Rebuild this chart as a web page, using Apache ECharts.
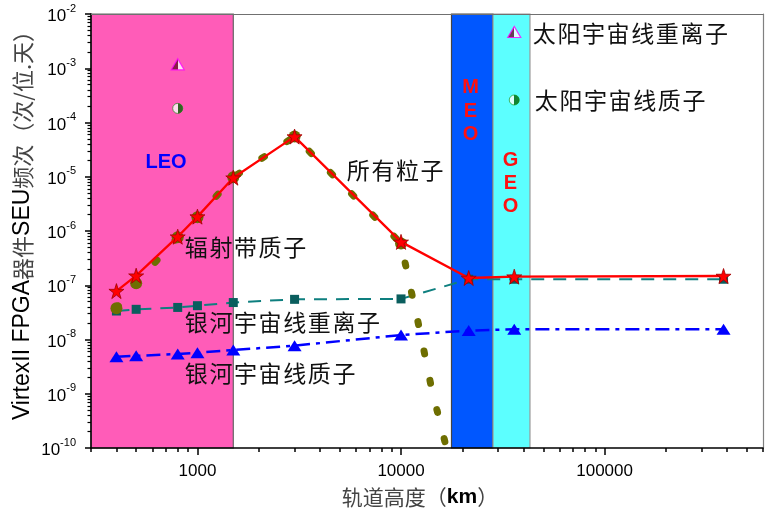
<!DOCTYPE html>
<html>
<head>
<meta charset="utf-8">
<script src="https://cdn.jsdelivr.net/npm/echarts@6/dist/echarts.min.js"></script>
<style>html,body{margin:0;padding:0;background:#fff;}#c{width:776px;height:512px;}</style>
</head>
<body>
<div id="c"></div>
<script>
// ---- data (raw values, km and upsets/bit/day) ----
const altitude      = [400, 500, 800, 1000, 1500, 3000, 10000, 21500, 36000, 384000];
const allParticles  = [7.8e-8, 1.5e-7, 7.85e-7, 1.84e-6, 9.6e-6, 5.5e-5, 6.3e-7, 1.36e-7, 1.44e-7, 1.48e-7];
const gcrHeavyIon   = [3.35e-8, 3.6e-8, 3.9e-8, 4.2e-8, 4.8e-8, 5.5e-8, 5.6e-8, 1.29e-7, 1.29e-7, 1.29e-7];
const gcrProton     = [4.8e-9, 5.0e-9, 5.4e-9, 5.7e-9, 6.4e-9, 7.7e-9, 1.21e-8, 1.46e-8, 1.55e-8, 1.55e-8];
const beltAltitude  = [400, 500, 800, 1000, 1500, 3000, 10000, 11000, 12000, 13000, 14000, 15000, 16000, 17000];
const beltProton    = [3.76e-8, 1.09e-7, 7.65e-7, 1.8e-6, 9.8e-6, 5.5e-5, 5.9e-7, 1.09e-7, 2.5e-8, 5.9e-9, 1.48e-9, 5.1e-10, 1.95e-10, 7.8e-11];
const beltMarked    = [true, true, true, true, true, true, true, false, false, false, false, false, false, false];
const solarAltitude = [800, 36000];
const solarHeavyIon = [1.18e-3, 4.66e-3];
const solarProton   = [1.82e-4, 2.6e-4];
const bandNames     = ['LEO', 'MEO', 'GEO'];
const bandStart     = [300, 17700, 28300];
const bandEnd       = [1500, 28300, 43000];
const xRange        = [300, 600000];
const yRange        = [1e-10, 1e-2];
const xMajorTicks   = [1000, 10000, 100000];
const yMajorTicks   = [1e-10, 1e-9, 1e-8, 1e-7, 1e-6, 1e-5, 1e-4, 1e-3, 1e-2];

// ---- helpers ----
const lg = v => Math.log10(v);
const pts = (xs, ys) => xs.map((x, i) => [lg(x), lg(ys[i])]);
function minorTicks(lo, hi) {
  const out = [];
  for (let e = Math.floor(lg(lo)); e <= Math.ceil(lg(hi)); e++) {
    for (let k = 2; k <= 9; k++) {
      const v = k * Math.pow(10, e);
      if (v >= lo * 0.999 && v <= hi * 1.001) out.push(lg(v));
    }
  }
  return out;
}
const fontLatin = 'Arial, "Liberation Sans", sans-serif';
const fontCJK = '"Noto Sans CJK SC", sans-serif';
// wide-set CJK label: each character as its own rich token with side padding
const spaced = s => s.split('').map(ch => '{c|' + ch + '}').join('');
const cjkRich = {c: {fontSize: 23, fontFamily: fontCJK, fill: '#111', padding: [0, 0.8, 0, 0.8]}};

const chart = echarts.init(document.getElementById('c'), null, {renderer: 'canvas'});

const xMin = lg(xRange[0]), xMax = lg(xRange[1]);
const yMin = lg(yRange[0]), yMax = lg(yRange[1]);
const xMajor = xMajorTicks.map(lg), yMajor = yMajorTicks.map(v => Math.round(lg(v)));

const bandColors = ['#FF5CB8', '#0057FF', '#5CFFFF'];
const bandBorders = ['#666666', '#444444', '#999999'];

const halfTri = {type: 'linear', x: 0, y: 0, x2: 1, y2: 0, colorStops: [
  {offset: 0, color: '#6B0A2A'}, {offset: 0.5, color: '#6B0A2A'},
  {offset: 0.5, color: '#ffffff'}, {offset: 1, color: '#ffffff'}]};
const halfCirc = {type: 'linear', x: 0, y: 0, x2: 1, y2: 0, colorStops: [
  {offset: 0, color: '#ffffff'}, {offset: 0.5, color: '#ffffff'},
  {offset: 0.5, color: '#006400'}, {offset: 1, color: '#006400'}]};

function label(text, x, y) {
  return {type: 'text', x: x, y: y, z: 20, style: {text: spaced(text), rich: cjkRich, verticalAlign: 'middle'}};
}

const option = {
  backgroundColor: '#ffffff',
  animation: false,
  grid: {left: 91, right: 13, top: 14, bottom: 64, containLabel: false, outerBoundsMode: 'none'},
  xAxis: [
    {type: 'value', min: xMin, max: xMax, position: 'bottom', z: 10,
     axisLine: {lineStyle: {color: '#000', width: 1.5}},
     axisTick: {customValues: xMajor, length: 7, lineStyle: {color: '#000', width: 1.5}},
     axisLabel: {customValues: xMajor, formatter: v => String(Math.round(Math.pow(10, v))),
                 fontSize: 17, fontFamily: fontLatin, color: '#000', margin: 15},
     splitLine: {show: false}},
    {type: 'value', min: xMin, max: xMax, position: 'bottom', z: 10,
     axisLine: {show: false},
     axisTick: {customValues: minorTicks(xRange[0], xRange[1]), length: 4, lineStyle: {color: '#000', width: 1.5}},
     axisLabel: {show: false}, splitLine: {show: false}},
    {type: 'value', min: xMin, max: xMax, position: 'top', z: 10,
     axisLine: {lineStyle: {color: '#707070', width: 1.2}},
     axisTick: {show: false}, axisLabel: {show: false}, splitLine: {show: false}}
  ],
  yAxis: [
    {type: 'value', min: yMin, max: yMax, position: 'left', z: 10,
     axisLine: {lineStyle: {color: '#000', width: 1.5}},
     axisTick: {customValues: yMajor, length: 6, lineStyle: {color: '#000', width: 1.5}},
     axisLabel: {customValues: yMajor, margin: 15,
                 formatter: v => '{b|10}{s|' + Math.round(v) + '}',
                 rich: {b: {fontSize: 17, fontFamily: fontLatin, color: '#000', lineHeight: 22, verticalAlign: 'bottom'},
                        s: {fontSize: 11, fontFamily: fontLatin, color: '#000', lineHeight: 22, verticalAlign: 'top'}}},
     splitLine: {show: false}},
    {type: 'value', min: yMin, max: yMax, position: 'left', z: 10,
     axisLine: {show: false},
     axisTick: {customValues: minorTicks(yRange[0], yRange[1]), length: 3.5, lineStyle: {color: '#000', width: 1.2}},
     axisLabel: {show: false}, splitLine: {show: false}},
    {type: 'value', min: yMin, max: yMax, position: 'right', z: 10,
     axisLine: {lineStyle: {color: '#808080', width: 1.2}},
     axisTick: {show: false}, axisLabel: {show: false}, splitLine: {show: false}}
  ],
  series: [
    {name: 'bands', type: 'line', data: [], silent: true, z: 1,
     markArea: {silent: true, z: 1,
       data: bandNames.map((n, i) => [
         {xAxis: lg(bandStart[i]), yAxis: yMin, itemStyle: {color: bandColors[i], borderColor: bandBorders[i], borderWidth: 1.2}},
         {xAxis: lg(bandEnd[i]), yAxis: yMax}])}},
    {name: '银河宇宙线重离子', type: 'line', z: 3, data: pts(altitude, gcrHeavyIon),
     symbol: 'rect', symbolSize: 9, itemStyle: {color: '#0A5E5E'},
     lineStyle: {color: '#0E7F7F', width: 2, type: [13, 9]}},
    {name: '银河宇宙线质子', type: 'line', z: 3, data: pts(altitude, gcrProton),
     symbol: 'triangle', symbolSize: [14, 11], itemStyle: {color: '#0000FF'},
     lineStyle: {color: '#0000FF', width: 2.5, type: [14, 6, 4, 6]}},
    {name: '辐射带质子', type: 'line', z: 4,
     data: beltAltitude.map((x, i) => ({value: [lg(x), lg(beltProton[i])], symbol: beltMarked[i] ? 'circle' : 'none'})),
     symbolSize: 12, itemStyle: {color: '#6E6E00'},
     lineStyle: {color: '#6E6E00', width: 7, type: [3, 27], cap: 'round'}},
    {name: '所有粒子', type: 'line', z: 5, data: pts(altitude, allParticles),
     symbol: 'path://M50,0 L61.8,35.4 L100,35.4 L69.1,57.3 L80.9,92.7 L50,70.8 L19.1,92.7 L30.9,57.3 L0,35.4 L38.2,35.4 Z',
     symbolSize: 15, itemStyle: {color: '#FF0000', borderColor: '#A00000', borderWidth: 0.8},
     lineStyle: {color: '#FF0000', width: 2.3}},
    {name: '太阳宇宙线重离子', type: 'scatter', z: 6, data: pts(solarAltitude, solarHeavyIon),
     symbol: 'triangle', symbolSize: [13, 11],
     itemStyle: {color: halfTri, borderColor: '#FF00FF', borderWidth: 1.2}},
    {name: '太阳宇宙线质子', type: 'scatter', z: 6, data: pts(solarAltitude, solarProton),
     symbol: 'circle', symbolSize: 10,
     itemStyle: {color: halfCirc, borderColor: '#0A8A0A', borderWidth: 0.8}}
  ],
  graphic: [
    label('所有粒子', 346, 170),
    label('辐射带质子', 184, 247),
    label('银河宇宙线重离子', 184, 322),
    label('银河宇宙线质子', 184, 373),
    label('太阳宇宙线重离子', 532, 33),
    label('太阳宇宙线质子', 534, 100),
    {type: 'text', x: 166, y: 162, z: 20, style: {text: 'LEO', fontSize: 20, fontWeight: 'bold', fontFamily: fontLatin, fill: '#0000FF', align: 'center', verticalAlign: 'middle'}},
    {type: 'text', x: 470.5, y: 111, z: 20, style: {text: 'M\nE\nO', fontSize: 20, lineHeight: 23.5, fontWeight: 'bold', fontFamily: fontLatin, fill: '#FF1010', align: 'center', verticalAlign: 'middle'}},
    {type: 'text', x: 510.5, y: 183, z: 20, style: {text: 'G\nE\nO', fontSize: 20, lineHeight: 23, fontWeight: 'bold', fontFamily: fontLatin, fill: '#FF1010', align: 'center', verticalAlign: 'middle'}},
    {type: 'text', x: 23, y: 220, rotation: Math.PI / 2, z: 20,
     style: {text: '{a|VirtexII FPGA}{b|器件}{a|SEU}{b|频次（次/位.天）}', align: 'center', verticalAlign: 'middle',
             rich: {a: {fontSize: 23, fontFamily: fontLatin, fill: '#000'},
                    b: {fontSize: 22, fontFamily: fontCJK, fill: '#444'}}}},
    {type: 'text', x: 420, y: 497, z: 20,
     style: {text: '{b|轨道高度（}{a|km}{b|）}', align: 'center', verticalAlign: 'middle',
             rich: {a: {fontSize: 21, fontWeight: 'bold', fontFamily: fontLatin, fill: '#000'},
                    b: {fontSize: 21, fontFamily: fontCJK, fill: '#444'}}}}
  ]
};
chart.setOption(option);
</script>
</body>
</html>
